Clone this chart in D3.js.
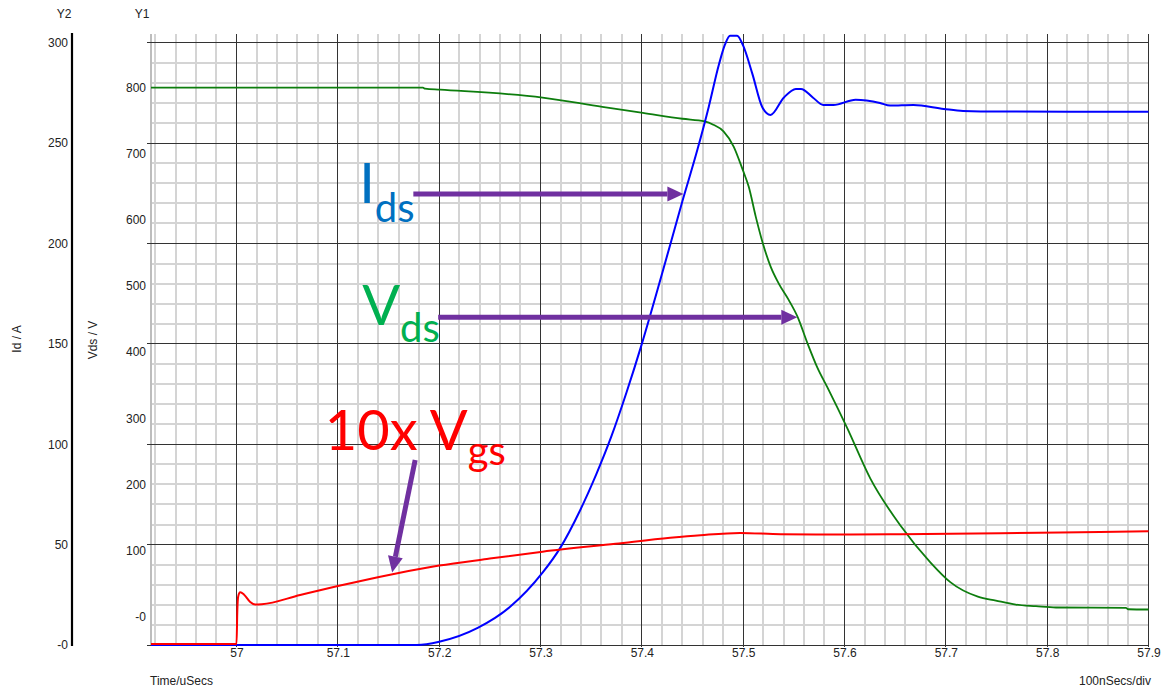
<!DOCTYPE html>
<html>
<head>
<meta charset="utf-8">
<script src="https://cdn.jsdelivr.net/npm/d3@7"></script>
<style>
  html, body { margin: 0; padding: 0; background: #fff; }
  svg { display: block; font-family: "Liberation Sans", Arial, sans-serif; }
</style>
</head>
<body>
<svg id="chart" width="1164" height="689"></svg>
<script>
// ---- Axis ticks -------------------------------------------------------
const timeTicks = [57, 57.1, 57.2, 57.3, 57.4, 57.5, 57.6, 57.7, 57.8, 57.9];
const timeTickLabels = ["57", "57.1", "57.2", "57.3", "57.4", "57.5", "57.6", "57.7", "57.8", "57.9"];
const vdsTicks = [0, 100, 200, 300, 400, 500, 600, 700, 800];
const vdsTickLabels = ["-0", "100", "200", "300", "400", "500", "600", "700", "800"];
const idTicks = [0, 50, 100, 150, 200, 250, 300];
const idTickLabels = ["-0", "50", "100", "150", "200", "250", "300"];

// ---- Drain current Id (A), plotted on Y2 -------------------------------
const idTime = [56.9156, 57.178, 57.2, 57.238, 57.27, 57.302, 57.319, 57.339, 57.355, 57.37,
                57.385, 57.40, 57.42, 57.44, 57.455, 57.466, 57.476, 57.482, 57.487, 57.494,
                57.500, 57.509, 57.519, 57.527, 57.540, 57.552, 57.557, 57.569, 57.579, 57.589,
                57.611, 57.635, 57.645, 57.668, 57.698, 57.717, 57.754, 57.90];
const idAmps = [0, 0, 1.6, 8.5, 19, 36, 48, 67, 85, 104,
                126, 150, 185, 221, 247, 268, 289, 299, 303.5, 303.5,
                298.5, 284.6, 267.7, 264, 272.6, 277, 277, 272.6, 269, 269,
                271.6, 270, 268.7, 269, 267, 266, 265.7, 265.6];

// ---- Drain-source voltage Vds (V), plotted on Y1 -----------------------
const vdsTime = [56.9156, 57.184, 57.186, 57.201, 57.302, 57.361, 57.401, 57.44, 57.462, 57.4705,
                 57.4806, 57.4906, 57.4995, 57.5055, 57.5124, 57.5193, 57.5272, 57.535, 57.5449, 57.5538,
                 57.5633, 57.5731, 57.583, 57.6027, 57.6254, 57.655, 57.6847, 57.7044, 57.7316, 57.7494,
                 57.7691, 57.789, 57.8086, 57.8777, 57.88, 57.90];
const vdsVolts = [800, 800, 798.5, 797, 785, 771, 762, 753, 749, 744,
                  734, 711, 676, 650, 605, 565, 529, 504, 479, 453,
                  414, 377, 347, 285, 209, 138, 82, 52, 30, 24,
                  18, 15.6, 13.6, 13, 11, 10.6];

// ---- Gate-source voltage x10 (V), plotted on Y1 ------------------------
const vgsTime = [56.9156, 57.0, 57.0008, 57.0016, 57.0036, 57.0075, 57.0135, 57.0184, 57.025, 57.0628,
                 57.1, 57.154, 57.2, 57.247, 57.302, 57.374, 57.428, 57.458, 57.497, 57.537,
                 57.606, 57.655, 57.754, 57.852, 57.90];
const vgsVolts10 = [-41.5, -41.5, 10, 30, 36.5, 33, 22, 18, 18.5, 32.5,
                    46, 64, 77, 87, 98, 110, 119, 123, 126.5, 124.5,
                    124, 124.5, 126, 128, 129];

// ---- Layout ------------------------------------------------------------
const W = 1164, H = 689;
const plot = { left: 151, right: 1148.5, top: 34, bottom: 645 };

const x = d3.scaleLinear().domain([56.9156, 57.9]).range([plot.left, plot.right]);
const y2 = d3.scaleLinear().domain([0, 300]).range([645, 42.7]);      // Id / A
const y1 = d3.scaleLinear().domain([0, 800]).range([616.5, 87.7]);    // Vds / V

const svg = d3.select("#chart");
svg.append("rect").attr("width", W).attr("height", H).attr("fill", "#fff");

const grid = svg.append("g").attr("shape-rendering", "crispEdges");

// minor vertical grid (20 ns)
const minorT = d3.range(0, 50).map(i => +(56.92 + i * 0.02).toFixed(2)).filter(t => t <= 57.9);
grid.selectAll(".vminor").data(minorT.filter(t => Math.abs(t * 10 - Math.round(t * 10)) > 1e-6))
  .join("line")
  .attr("x1", d => x(d)).attr("x2", d => x(d))
  .attr("y1", plot.top).attr("y2", plot.bottom)
  .attr("stroke", "#d4d4d4").attr("stroke-width", 2);

// minor horizontal grid (10 A)
const minorA = d3.range(10, 300, 10).filter(a => a % 50 !== 0);
grid.selectAll(".hminor").data(minorA)
  .join("line")
  .attr("x1", plot.left).attr("x2", plot.right)
  .attr("y1", d => y2(d)).attr("y2", d => y2(d))
  .attr("stroke", "#d4d4d4").attr("stroke-width", 2);

// left frame of the plotting area
grid.append("line")
  .attr("x1", plot.left).attr("x2", plot.left)
  .attr("y1", plot.top).attr("y2", plot.bottom)
  .attr("stroke", "#bdbdbd").attr("stroke-width", 2);

// major vertical grid (100 ns)
grid.selectAll(".vmajor").data(timeTicks)
  .join("line")
  .attr("x1", d => x(d)).attr("x2", d => x(d))
  .attr("y1", plot.top).attr("y2", plot.bottom + 2)
  .attr("stroke", "#333").attr("stroke-width", 1);

// major horizontal grid (50 A) with short ticks left of the frame
grid.selectAll(".hmajor").data(idTicks)
  .join("line")
  .attr("x1", plot.left - 4).attr("x2", plot.right)
  .attr("y1", d => y2(d)).attr("y2", d => y2(d))
  .attr("stroke", "#333").attr("stroke-width", 1);

// ---- Axes --------------------------------------------------------------
const styleTicks = g => g.selectAll("text")
  .attr("font-size", 12).attr("fill", "#222")
  .attr("font-family", "Liberation Sans, Arial, sans-serif");

const xAxis = d3.axisBottom(x).tickValues(timeTicks).tickSize(0).tickPadding(3)
  .tickFormat((d, i) => timeTickLabels[i]);
const gx = svg.append("g").attr("transform", `translate(0,${plot.bottom})`).call(xAxis);
gx.select(".domain").remove();
styleTicks(gx);

const y1Axis = d3.axisLeft(y1).tickValues(vdsTicks).tickSize(0).tickPadding(0)
  .tickFormat((d, i) => vdsTickLabels[i]);
const gy1 = svg.append("g").attr("transform", `translate(${plot.left - 5},0)`).call(y1Axis);
gy1.select(".domain").remove();
styleTicks(gy1);

const y2Axis = d3.axisLeft(y2).tickValues(idTicks).tickSize(0).tickPadding(4)
  .tickFormat((d, i) => idTickLabels[i]);
const gy2 = svg.append("g").attr("transform", "translate(72,0)").call(y2Axis);
gy2.select(".domain").remove();
styleTicks(gy2);
svg.append("line")
  .attr("x1", 72).attr("x2", 72).attr("y1", 33).attr("y2", 646)
  .attr("stroke", "#000").attr("stroke-width", 2.2);

// axis captions
const cap = (txt, px, py, anchor, rot) => {
  const t = svg.append("text").text(txt)
    .attr("font-size", 12).attr("fill", "#222")
    .attr("text-anchor", anchor || "start")
    .attr("dominant-baseline", "middle");
  if (rot) t.attr("transform", `translate(${px},${py}) rotate(-90)`).attr("text-anchor", "middle");
  else t.attr("x", px).attr("y", py);
};
cap("Y2", 64, 15, "middle");
cap("Y1", 142, 15, "middle");
cap("Id / A", 18, 339, "middle", true);
cap("Vds / V", 94, 340, "middle", true);
cap("Time/uSecs", 150, 682, "start");
cap("100nSecs/div", 1151, 682, "end");

// ---- Traces ------------------------------------------------------------
const traces = svg.append("g").attr("fill", "none").attr("stroke-linejoin", "round");

const vdsLine = d3.line().x((d, i) => x(vdsTime[i])).y(d => y1(d)).curve(d3.curveMonotoneX);
traces.append("path").attr("d", vdsLine(vdsVolts))
  .attr("stroke", "#0d7d0d").attr("stroke-width", 1.8);

const idLine = d3.line().x((d, i) => x(idTime[i])).y(d => y2(d)).curve(d3.curveMonotoneX);
traces.append("path").attr("d", idLine(idAmps))
  .attr("stroke", "#0000ff").attr("stroke-width", 2);

const vgsLine = d3.line().x((d, i) => x(vgsTime[i])).y(d => y1(d)).curve(d3.curveMonotoneX);
traces.append("path").attr("d", vgsLine(vgsVolts10))
  .attr("stroke", "#ff0000").attr("stroke-width", 2);

// ---- Annotations -------------------------------------------------------
const arrowColor = "#7030a0";
const labels = [
  { main: "I",     sub: "ds", color: "#0070c0", t: 57.121, v: y2.invert(203), scale: y2, dy: 19 },
  { main: "V",     sub: "ds", color: "#00b050", t: 57.124, v: y1.invert(325), scale: y1, dy: 17 },
  { main: "10x V", sub: "gs", color: "#ff0000", t: 57.087, v: y1.invert(450), scale: y1, dy: 15 }
];
const arrows = [
  { from: [57.1745, y2.invert(194)], to: [57.441, y2.invert(194)], scale: y2 },
  { from: [57.199, y1.invert(317.3)], to: [57.5534, y1.invert(317.3)], scale: y1 },
  { from: [57.1763, y1.invert(460)], to: [57.1536, y1.invert(572.5)], scale: y1 }
];

const ann = svg.append("g").attr("font-family", "Lato, 'Open Sans', sans-serif");
labels.forEach(l => {
  const t = ann.append("text")
    .attr("x", x(l.t)).attr("y", l.scale(l.v))
    .attr("fill", l.color).attr("font-size", 56);
  t.append("tspan").text(l.main);
  t.append("tspan").text(l.sub).attr("font-size", 40).attr("dy", l.dy);
});

arrows.forEach(a => {
  const x1 = x(a.from[0]), yA = a.scale(a.from[1]);
  const x2 = x(a.to[0]), yB = a.scale(a.to[1]);
  const ang = Math.atan2(yB - yA, x2 - x1);
  const headL = 16, headW = 7.5;
  const bx = x2 - headL * Math.cos(ang), by = yB - headL * Math.sin(ang);
  ann.append("line")
    .attr("x1", x1).attr("y1", yA).attr("x2", bx).attr("y2", by)
    .attr("stroke", arrowColor).attr("stroke-width", 5);
  const px = -Math.sin(ang), py = Math.cos(ang);
  ann.append("path")
    .attr("d", `M${x2},${yB}L${bx + px * headW},${by + py * headW}L${bx - px * headW},${by - py * headW}Z`)
    .attr("fill", arrowColor);
});
</script>
</body>
</html>
